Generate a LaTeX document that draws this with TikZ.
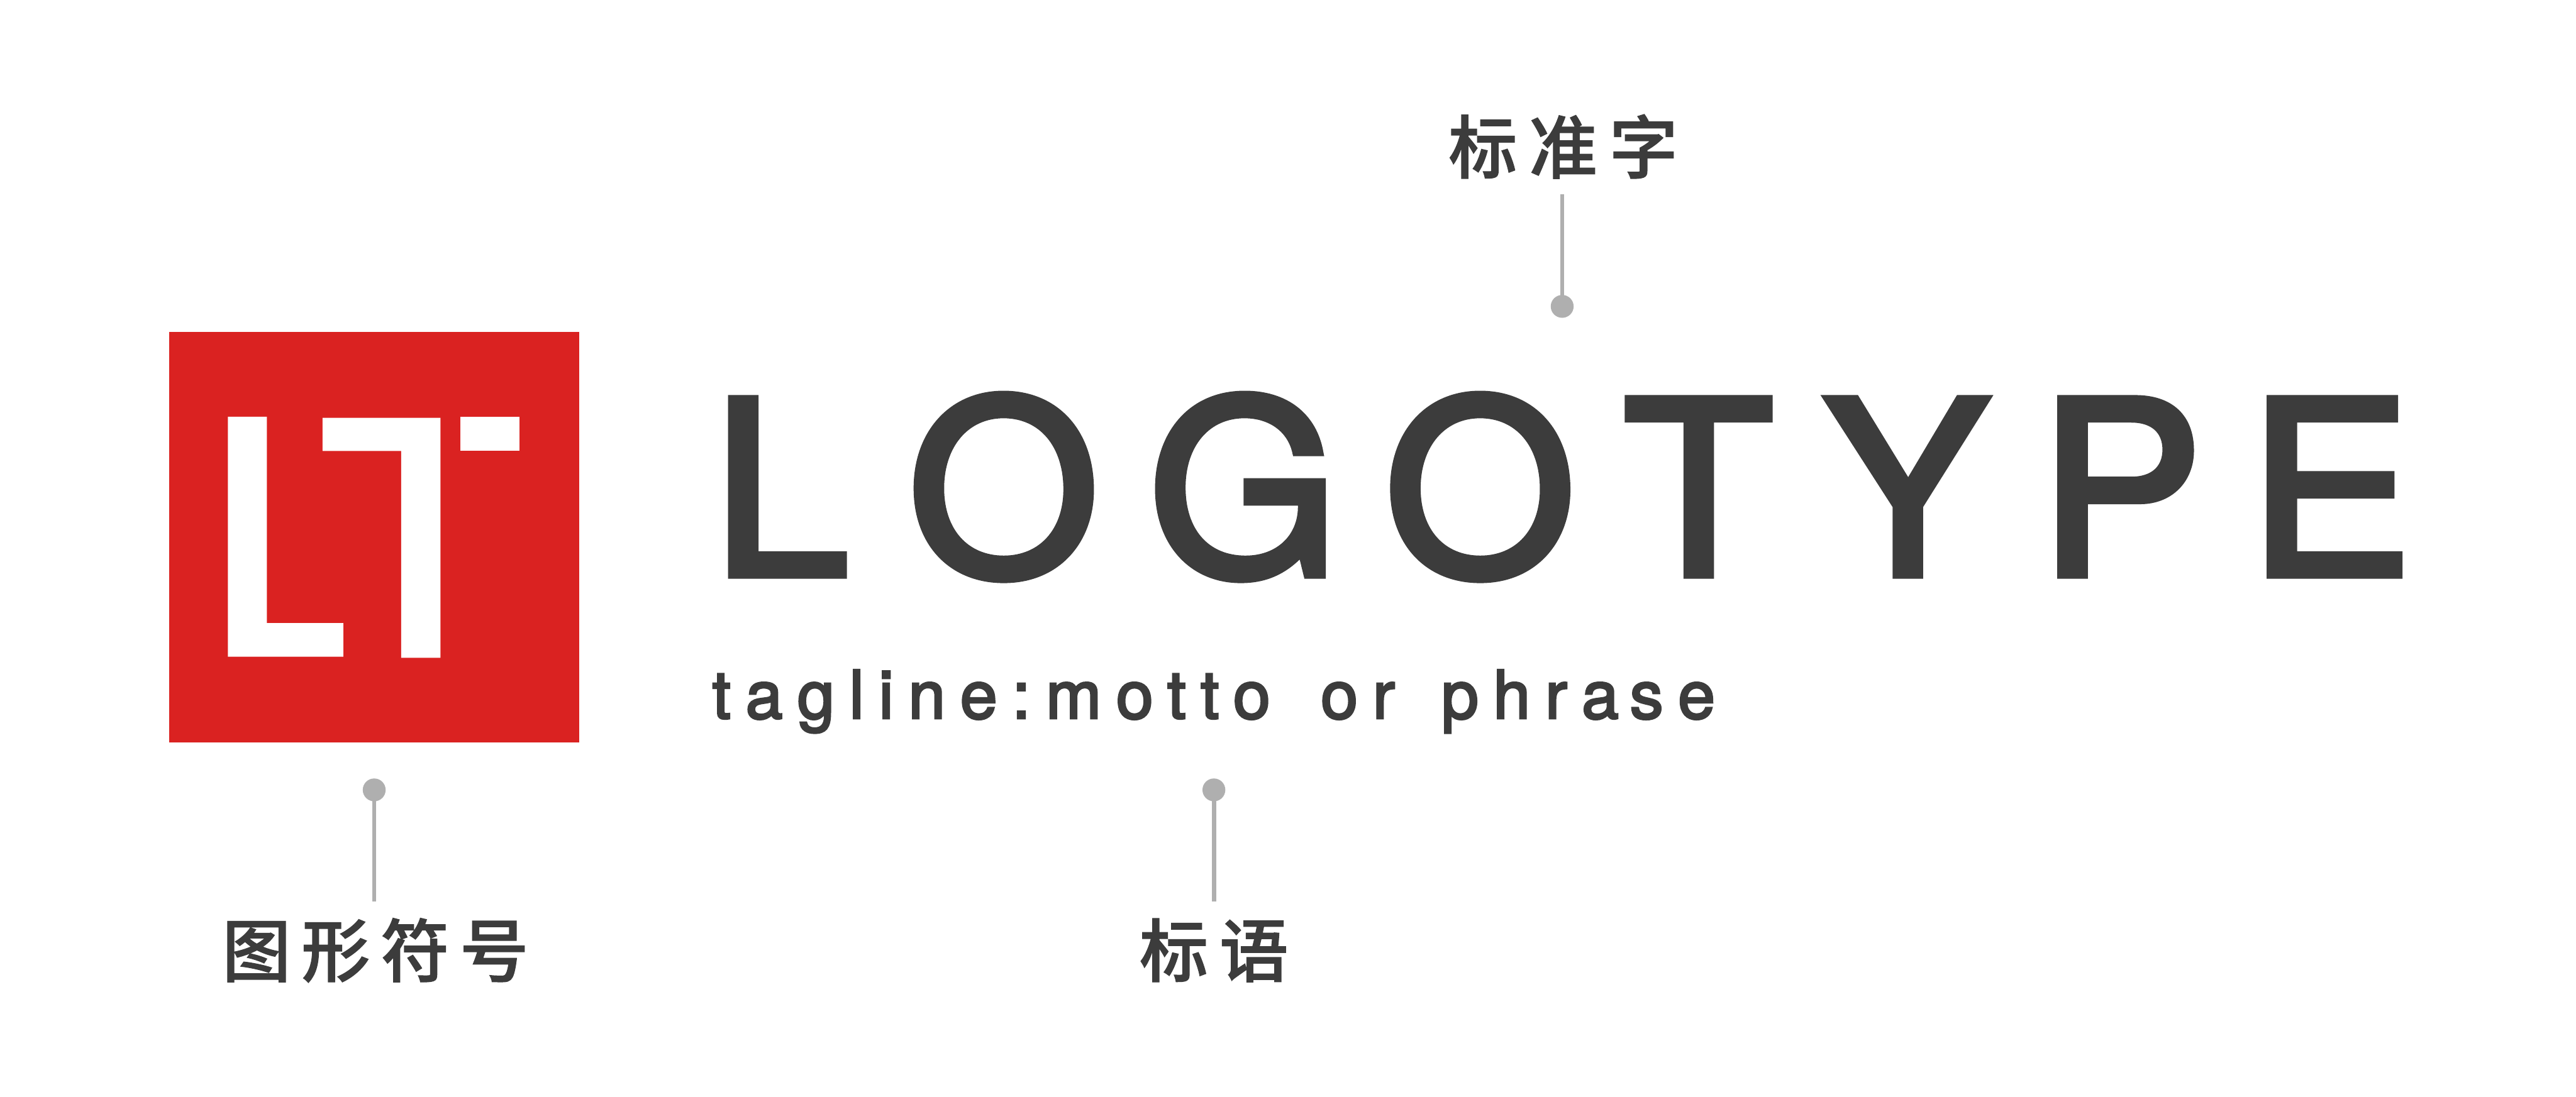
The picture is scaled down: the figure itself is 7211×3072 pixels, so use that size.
\documentclass[tikz,border=0pt]{standalone}
\usepackage{fontspec}
\newfontfamily\logofont[FakeBold=3.2,FakeStretch=1.015]{TeX Gyre Heros}
\newfontfamily\tagfont[FakeBold=3]{TeX Gyre Heros}
\newfontfamily\cjkfont[FakeBold=1.2]{Noto Sans CJK SC Medium}
\definecolor{brandred}{HTML}{DA2221}
\definecolor{ink}{HTML}{3C3C3C}
\definecolor{leadgray}{HTML}{AFAFAF}
\tikzset{
  txt/.style={inner sep=0pt,outer sep=0pt,text=ink,anchor=base west},
  logotext/.style={txt,font=\logofont\fontsize{676}{676}\selectfont},
  tagtext/.style={txt,font=\tagfont\fontsize{187}{187}\selectfont},
  cjktext/.style={txt,font=\cjkfont\fontsize{192}{192}\selectfont},
  dotmark/.style={circle,fill=leadgray,inner sep=0pt,minimum size=64pt},
  leadline/.style={draw=leadgray,line width=12pt},
  emblemshape/.style={fill=white,draw=none}
}
\newcommand{\lsp}[1]{\kern#1pt\relax}
\begin{document}
\begin{tikzpicture}[x=1pt,y=-1pt]
\useasboundingbox (0,0) rectangle (7211,3072);
\fill[white] (0,0) rectangle (7211,3072);
% emblem
\fill[brandred] (473,930) rectangle (1622,2079);
\fill[emblemshape] (638,1167) -- (747,1167) -- (747,1745) -- (961,1745) -- (961,1839) -- (638,1839) -- cycle;
\fill[emblemshape] (903,1170) -- (1233,1170) -- (1233,1842) -- (1123,1842) -- (1123,1263) -- (903,1263) -- cycle;
\fill[emblemshape] (1289,1167) rectangle (1454,1263);
% wordmark
\node[logotext] (logo) at (1994,1610) {L\lsp{167}O\lsp{138}G\lsp{128}O\lsp{135}T\lsp{143}Y\lsp{143}P\lsp{129}E};
\node[tagtext] (tag) at (1994,2012) {\addfontfeature{LetterSpace=22}tagline:\kern43pt motto \kern48pt or \kern37pt phra\kern31pt{}se};
% labels
\node[cjktext] (lblTop) at (4055,484) {标\kern33pt准\kern33pt字};
\node[cjktext] (lblSym) at (622,2734) {图\kern30pt形\kern30pt符\kern30pt号};
\node[cjktext] (lblTag) at (3190,2734) {标\kern32pt语};
% pointers
\node[dotmark] (dotTop) at (4373,858) {};
\node[dotmark] (dotSym) at (1047.5,2212) {};
\node[dotmark] (dotTag) at (3398,2212) {};
\coordinate (endTop) at (4373,544);
\coordinate (endSym) at (1047.5,2525);
\coordinate (endTag) at (3398,2525);
\draw[leadline] (dotTop.center) -- (endTop);
\draw[leadline] (dotSym.center) -- (endSym);
\draw[leadline] (dotTag.center) -- (endTag);
\end{tikzpicture}
\end{document}
